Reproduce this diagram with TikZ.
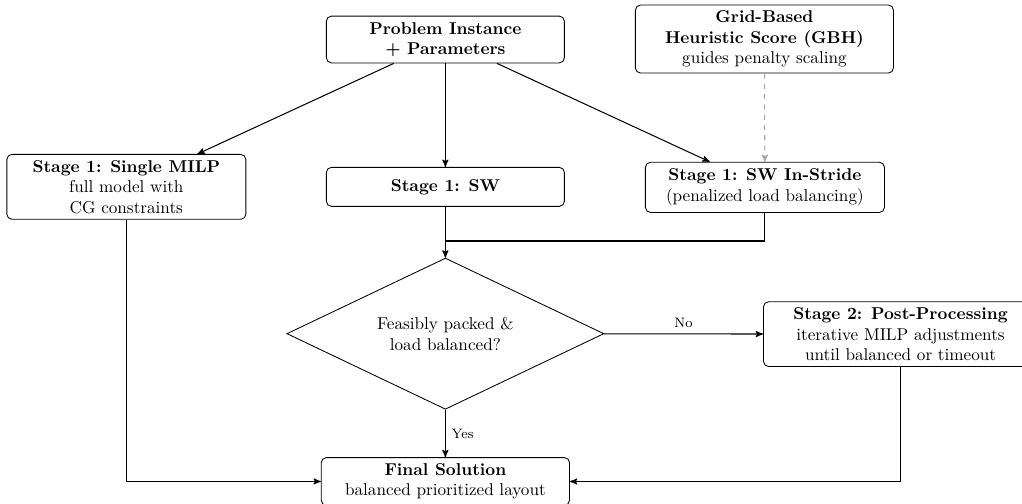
\documentclass[tikz,border=0pt]{standalone}
\usepackage{amsmath}
\usepackage{tikz}
\usetikzlibrary{shapes.geometric, arrows}
\tikzset{
stagebox/.style={draw, rounded corners=3pt, align=center, minimum width=4.88cm, line width=0.5pt}, % rounded boxes for every stage
decision/.style={draw, diamond, aspect=2, align=center, minimum width=6.5cm, minimum height=3.1cm, line width=0.5pt}, % the yes/no test
flow/.style={->, >=stealth', line width=0.6pt}, % solid directed edges
hint/.style={->, >=stealth', dashed, gray!70, line width=0.6pt}, % weak influence
}

\begin{document}
\begin{tikzpicture}
  \useasboundingbox (0,0) rectangle (20.95,-10.33);

  \node[stagebox, minimum height=0.96cm] (inst) at (9.13,-0.81) {\textbf{Problem Instance}\\ \textbf{+ Parameters}};
  \node[stagebox, minimum width=5.29cm, minimum height=1.39cm] (gbh) at (15.67,-0.80) {\textbf{Grid-Based}\\ \textbf{Heuristic Score (GBH)}\\ guides penalty scaling};
  \node[stagebox, minimum width=4.90cm, minimum height=1.33cm] (milp) at (2.59,-3.83) {\textbf{Stage 1: Single MILP}\\ full model with\\ CG constraints};
  \node[stagebox, minimum height=0.80cm] (sw) at (9.13,-3.83) {\textbf{Stage 1: SW}};
  \node[stagebox, minimum width=4.90cm, minimum height=1.03cm] (stride) at (15.68,-3.84) {\textbf{Stage 1: SW In-Stride}\\ (penalized load balancing)};
  \node[decision] (check) at (9.13,-6.84) {Feasibly packed \&\\ load balanced?};
  \node[stagebox, minimum width=5.62cm, minimum height=1.31cm] (post) at (18.46,-6.85) {\textbf{Stage 2: Post-Processing}\\ iterative MILP adjustments\\ until balanced or timeout};
  \node[stagebox, minimum width=5.09cm, minimum height=0.98cm] (final) at (9.13,-9.87) {\textbf{Final Solution}\\ balanced prioritized layout};
  \coordinate (join) at (9.13,-4.94);

  \draw[flow] (inst) -- (milp);
  \draw[flow] (inst) -- (sw);
  \draw[flow] (inst) -- (stride);
  \draw[hint] (gbh) -- (stride);
  \draw[flow] (sw) -- (check);
  \draw[flow, -] (stride) |- (join);
  \draw[flow] (check) -- node[above, font=\footnotesize] {No} (post);
  \draw[flow] (check) -- node[right, font=\footnotesize] {Yes} (final);
  \draw[flow] (milp) |- (final);
  \draw[flow] (post) |- (final);
\end{tikzpicture}
\end{document}
